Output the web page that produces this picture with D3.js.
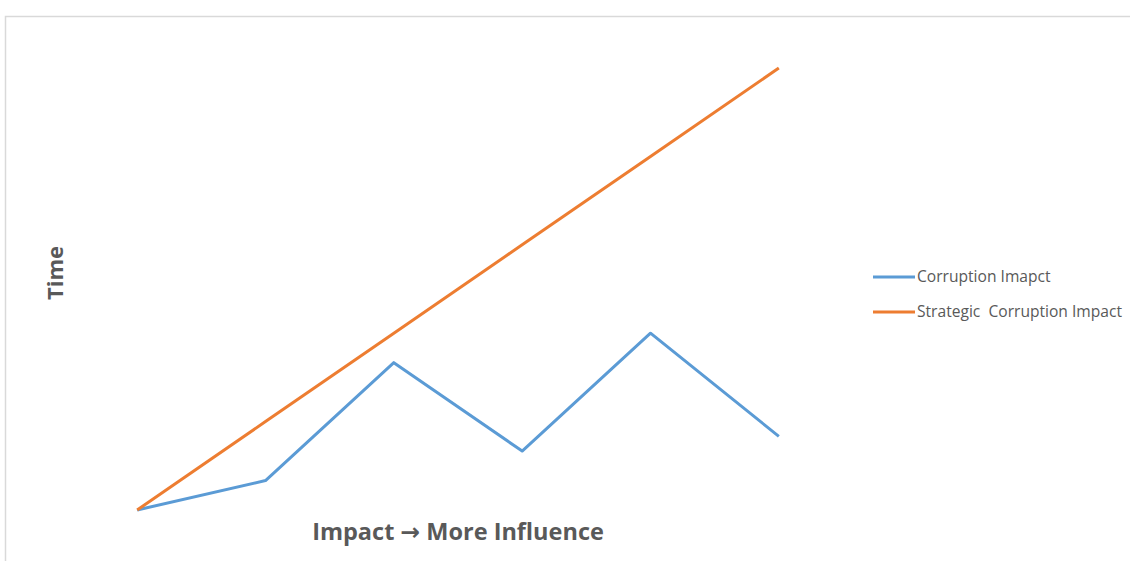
<!DOCTYPE html>
<html>
<head>
<meta charset="utf-8">
<script src="https://cdn.jsdelivr.net/npm/d3@7"></script>
<style>
  body { margin: 0; background: #fff; }
  text { font-family: "Open Sans", "Noto Sans", sans-serif; }
</style>
</head>
<body>
<div id="chart"></div>
<script>
// chart data
var categories = ['1', '2', '3', '4', '5', '6'];
var corruptionImpact = [0, 1, 5, 2, 6, 2.5];
var strategicImpact = [0, 3, 6, 9, 12, 15];
var seriesNames = ['Corruption Imapct', 'Strategic  Corruption Impact'];
var seriesColors = ['#5b9bd5', '#ed7d31'];

var width = 1130, height = 561;

var svg = d3.select('#chart').append('svg')
  .attr('width', width)
  .attr('height', height);

// chart frame (only top and left edges show in the crop)
svg.append('path')
  .attr('d', 'M5.5,' + height + 'V16.5H' + width)
  .attr('fill', 'none')
  .attr('stroke', '#d9d9d9')
  .attr('stroke-width', 1.5);

// band scale so points sit in the middle of each category, like Excel
var x = d3.scaleBand()
  .domain(categories)
  .range([73, 843]);

var y = d3.scaleLinear()
  .domain([0, 15])
  .range([510, 68]);

var line = d3.line()
  .x(function(d, i) { return x(categories[i]) + x.bandwidth() / 2; })
  .y(function(d) { return y(d); });

var series = [corruptionImpact, strategicImpact];

svg.selectAll('path.series')
  .data(series)
  .enter()
  .append('path')
    .attr('class', 'series')
    .attr('d', line)
    .attr('fill', 'none')
    .attr('stroke', function(d, i) { return seriesColors[i]; })
    .attr('stroke-width', 3)
    .attr('stroke-linejoin', 'round');

// axis titles
var xTitle = svg.append('text')
  .attr('x', 458)
  .attr('y', 540)
  .attr('text-anchor', 'middle')
  .attr('font-size', 23.5)
  .attr('font-weight', 'bold')
  .attr('fill', '#595959');
xTitle.append('tspan').text('Impact ');
// the Open Sans arrow is tiny, DejaVu has a proper one
xTitle.append('tspan').style('font-family', '"DejaVu Sans", sans-serif').text('\u2192');
xTitle.append('tspan').text(' More Influence');

svg.append('text')
  .attr('transform', 'translate(63,273) rotate(-90)')
  .attr('text-anchor', 'middle')
  .attr('font-size', 22)
  .attr('font-weight', 'bold')
  .attr('fill', '#595959')
  .text('Time');

// legend
var legend = svg.selectAll('g.legend')
  .data(seriesNames)
  .enter()
  .append('g')
    .attr('class', 'legend')
    .attr('transform', function(d, i) { return 'translate(873,' + (277 + i * 35) + ')'; });

legend.append('line')
  .attr('x1', 0)
  .attr('x2', 42)
  .attr('stroke', function(d, i) { return seriesColors[i]; })
  .attr('stroke-width', 3);

legend.append('text')
  .attr('x', 44)
  .attr('dy', '0.35em')
  .attr('font-size', 15.6)
  .attr('fill', '#595959')
  .style('white-space', 'pre')
  .text(function(d) { return d; });
</script>
</body>
</html>
